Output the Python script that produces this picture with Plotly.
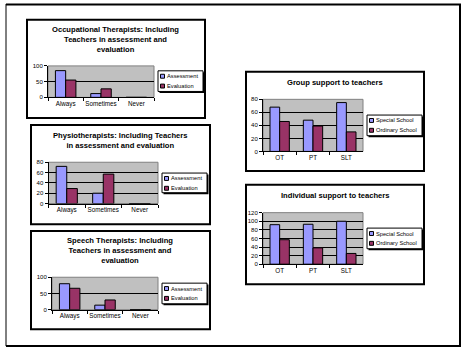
import plotly.graph_objects as go

W, H = 463, 352

# ---- data ----
freq_cats = ["Always", "Sometimes", "Never"]
ot_assessment = [85, 12, 0]
ot_evaluation = [55, 27, 0]
pt_assessment = [72, 20, 0]
pt_evaluation = [29, 57, 0]
st_assessment = [80, 14, 0]
st_evaluation = [66, 30, 0]

prof_cats = ["OT", "PT", "SLT"]
group_special = [68, 48, 75]
group_ordinary = [46, 39, 30]
indiv_special = [92, 93, 100]
indiv_ordinary = [57, 38, 25]

series_names_1 = ["Assessment", "Evaluation"]
series_names_2 = ["Special School", "Ordinary School"]
titles = [
    "Occupational Therapists: Including<br>Teachers in assessment and<br>evaluation",
    "Physiotherapists: Including Teachers<br>in assessment and evaluation",
    "Speech Therapists: Including<br>Teachers in assessment and<br>evaluation",
    "Group support to teachers",
    "Individual support to teachers",
]
y_ranges = [(0, 100, 50), (0, 80, 20), (0, 100, 50), (0, 80, 20), (0, 120, 20)]

COL_A = "#9999FF"
COL_B = "#993366"
FONT = "Arial, Liberation Sans, sans-serif"


def px(x):
    return x / W


def py(y):
    return 1 - y / H


# layout geometry (pixels)
panels = [
    dict(box=(27, 17, 205, 117), plot=(48, 64, 154, 96), leg=(158, 69, 203, 90), title_y=20, title_x=116),
    dict(box=(31, 124, 210, 225), plot=(48.5, 162, 158, 204), leg=(162, 173, 207, 193), title_y=128, title_x=120),
    dict(box=(31, 232, 210, 332), plot=(52, 279, 158, 312), leg=(162, 285, 207, 306), title_y=235, title_x=120),
    dict(box=(246, 70, 424, 171), plot=(263, 98, 363, 151), leg=(367, 114, 422, 135), title_y=74.5, title_x=335),
    dict(box=(246, 185, 424, 286), plot=(263, 213.3, 363, 265.7), leg=(367, 229, 422, 250), title_y=189, title_x=335),
]

chart_data = [
    (freq_cats, ot_assessment, ot_evaluation, series_names_1),
    (freq_cats, pt_assessment, pt_evaluation, series_names_1),
    (freq_cats, st_assessment, st_evaluation, series_names_1),
    (prof_cats, group_special, group_ordinary, series_names_2),
    (prof_cats, indiv_special, indiv_ordinary, series_names_2),
]

fig = go.Figure()
shapes = []
annotations = []
layout = {}

for i, (p, (cats, va, vb, names), yr, title) in enumerate(zip(panels, chart_data, y_ranges, titles)):
    n = "" if i == 0 else str(i + 1)
    xa, ya = "x" + n, "y" + n
    for vals, col, nm in ((va, COL_A, names[0]), (vb, COL_B, names[1])):
        fig.add_trace(go.Bar(
            x=cats, y=vals, name=nm, xaxis=xa, yaxis=ya, showlegend=False,
            marker=dict(color=col, line=dict(color="black", width=1)),
            hoverinfo="skip",
        ))
    x0, y0, x1, y1 = p["plot"]
    layout["xaxis" + n] = dict(
        domain=[px(x0), px(x1)], anchor=ya, type="category",
        showline=True, linecolor="black", linewidth=1,
        ticks="outside", ticklen=3, tickcolor="black", tickson="boundaries",
        tickangle=0,
        tickfont=dict(size=6.3, family=FONT, color="black"),
        showgrid=False, fixedrange=True,
    )
    layout["yaxis" + n] = dict(
        domain=[py(y1), py(y0)], anchor=xa, range=[yr[0], yr[1]], dtick=yr[2],
        showline=True, linecolor="black", linewidth=1,
        ticks="outside", ticklen=3, tickcolor="black",
        tickfont=dict(size=6, family=FONT, color="black"),
        showgrid=True, gridcolor="black", gridwidth=1, zeroline=False, fixedrange=True,
    )
    # plot area border
    shapes.append(dict(type="rect", xref=xa + " domain", yref=ya + " domain",
                       x0=0, x1=1, y0=0, y1=1, line=dict(color="#808080", width=1),
                       layer="below"))
    # panel border
    bx0, by0, bx1, by1 = p["box"]
    shapes.append(dict(type="rect", xref="paper", yref="paper",
                       x0=px(bx0), x1=px(bx1), y0=py(by1), y1=py(by0),
                       line=dict(color="black", width=2)))
    # title
    annotations.append(dict(text="<b>" + title + "</b>", xref="paper", yref="paper",
                            x=px(p["title_x"]), y=py(p["title_y"]), xanchor="center", yanchor="top",
                            showarrow=False, align="center",
                            font=dict(size=7.6, family=FONT, color="black")))
    # legend box with shadow
    lx0, ly0, lx1, ly1 = p["leg"]
    shapes.append(dict(type="rect", xref="paper", yref="paper",
                       x0=px(lx0 + 1.5), x1=px(lx1 + 1.5), y0=py(ly1 + 1.5), y1=py(ly0 + 1.5),
                       fillcolor="black", line=dict(width=0)))
    shapes.append(dict(type="rect", xref="paper", yref="paper",
                       x0=px(lx0), x1=px(lx1), y0=py(ly1), y1=py(ly0),
                       fillcolor="white", line=dict(color="black", width=1)))
    item_y = [ly0 + 5.5, ly0 + 15.5]
    for iy, col, nm in zip(item_y, (COL_A, COL_B), names):
        shapes.append(dict(type="rect", xref="paper", yref="paper",
                           x0=px(lx0 + 2.5), x1=px(lx0 + 6.5), y0=py(iy + 2), y1=py(iy - 2),
                           fillcolor=col, line=dict(color="black", width=1)))
        annotations.append(dict(text=nm, xref="paper", yref="paper",
                                x=px(lx0 + 7), y=py(iy), xanchor="left", yanchor="middle",
                                showarrow=False, font=dict(size=5.7, family=FONT, color="black")))

# outer page frame
shapes.append(dict(type="line", xref="paper", yref="paper", x0=px(6), x1=px(461), y0=py(1.5), y1=py(1.5),
                   line=dict(color="black", width=2)))
shapes.append(dict(type="line", xref="paper", yref="paper", x0=px(460), x1=px(460), y0=py(1), y1=py(350),
                   line=dict(color="black", width=2)))
shapes.append(dict(type="line", xref="paper", yref="paper", x0=px(6), x1=px(461), y0=py(349), y1=py(349),
                   line=dict(color="black", width=2)))
shapes.append(dict(type="line", xref="paper", yref="paper", x0=px(6), x1=px(6), y0=py(1), y1=py(349),
                   line=dict(color="black", width=1)))

fig.update_layout(
    width=W, height=H, autosize=False,
    margin=dict(l=0, r=0, t=0, b=0, pad=0),
    paper_bgcolor="white", plot_bgcolor="#C0C0C0",
    barmode="group", bargap=0.42, bargroupgap=0,
    showlegend=False,
    shapes=shapes, annotations=annotations,
    font=dict(family=FONT, size=6, color="black"),
    **layout,
)

fig.write_html("out.html", config={"displayModeBar": False, "staticPlot": True})
